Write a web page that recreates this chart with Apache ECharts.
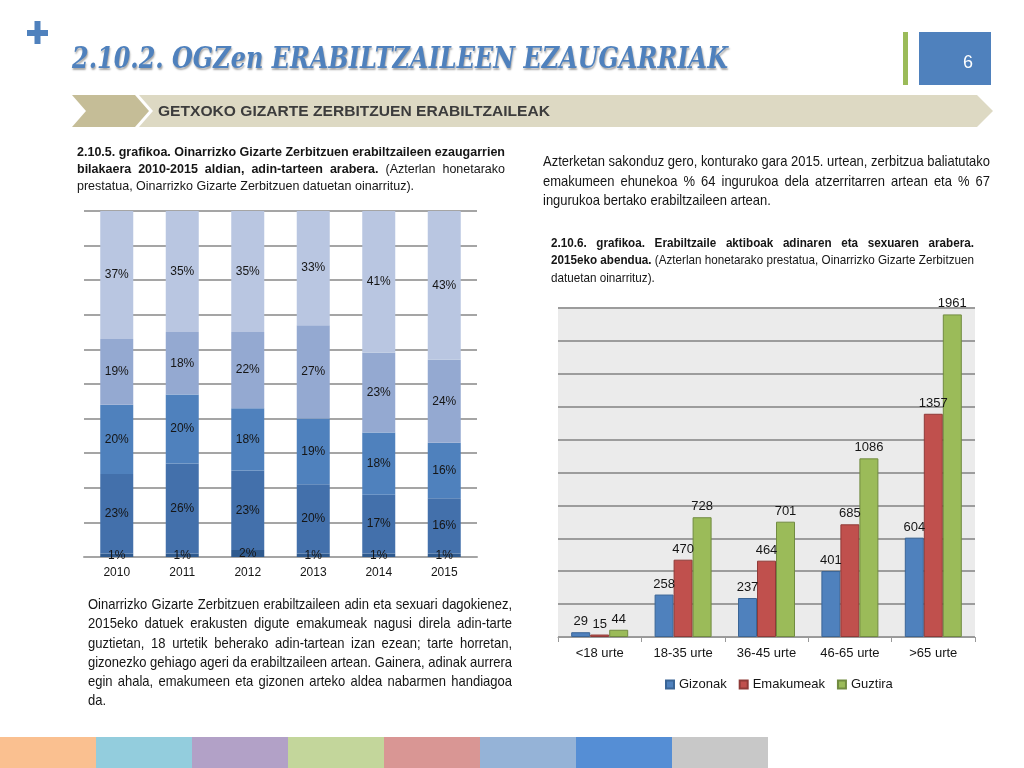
<!DOCTYPE html>
<html><head><meta charset="utf-8">
<script src="https://cdn.jsdelivr.net/npm/echarts@6/dist/echarts.min.js"></script>
<style>
html,body{margin:0;padding:0;background:#fff;}
#wrap{position:relative;width:1024px;height:768px;overflow:hidden;}
#chart{position:absolute;left:0;top:0;width:1024px;height:768px;}
.ln{position:absolute;white-space:nowrap;color:#151515;font-family:"Liberation Sans Narrow","Arial Narrow","Liberation Sans",Arial,sans-serif;transform-origin:0 50%;}
.just{text-align:justify;text-align-last:justify;}
</style></head>
<body><div id="wrap"><div id="chart"></div><div id="texts"></div></div>
<script>
// ---- Data: left chart (100% stacked, by year) ----
const years = ['2010','2011','2012','2013','2014','2015'];
const ageGroups = ['<18 urte','18-35 urte','36-45 urte','46-65 urte','>65 urte'];
const shareUnder18 = [1,1,2,1,1,1];
const share18to35 = [23,26,23,20,17,16];
const share36to45 = [20,20,18,19,18,16];
const share46to65 = [19,18,22,27,23,24];
const shareOver65 = [37,35,35,33,41,43];
const leftTicks = {min:0, max:100, interval:10};

// ---- Data: right chart (2015, by age & sex) ----
const sexSeries = ['Gizonak','Emakumeak','Guztira'];
const gizonak = [29,258,237,401,604];
const emakumeak = [15,470,464,685,1357];
const guztira = [44,728,701,1086,1961];
const rightTicks = {min:0, max:2000, interval:200};

// ---- Slide texts ----
const titleText = '2.10.2. OGZen ERABILTZAILEEN EZAUGARRIAK';
const bannerText = 'GETXOKO GIZARTE ZERBITZUEN ERABILTZAILEAK';
const pageNumber = '6';
const leftCaption = [
  '<b>2.10.5. grafikoa. Oinarrizko Gizarte Zerbitzuen erabiltzaileen ezaugarrien</b>',
  '<b>bilakaera 2010-2015 aldian, adin-tarteen arabera.</b> (Azterlan honetarako',
  'prestatua, Oinarrizko Gizarte Zerbitzuen datuetan oinarrituz).'
];
const rightPara = [
  'Azterketan sakonduz gero, konturako gara 2015. urtean, zerbitzua baliatutako',
  'emakumeen ehunekoa % 64 ingurukoa dela atzerritarren artean eta % 67',
  'ingurukoa bertako erabiltzaileen artean.'
];
const rightCaption = [
  '<b>2.10.6. grafikoa. Erabiltzaile aktiboak adinaren eta sexuaren arabera.</b>',
  '<b>2015eko abendua.</b> (Azterlan honetarako prestatua, Oinarrizko Gizarte Zerbitzuen',
  'datuetan oinarrituz).'
];
const bottomPara = [
  'Oinarrizko Gizarte Zerbitzuen erabiltzaileen adin eta sexuari dagokienez,',
  '2015eko datuek erakusten digute emakumeak nagusi direla adin-tarte',
  'guztietan, 18 urtetik beherako adin-tartean izan ezean; tarte horretan,',
  'gizonezko gehiago ageri da erabiltzaileen artean. Gainera, adinak aurrera',
  'egin ahala, emakumeen eta gizonen arteko aldea nabarmen handiagoa',
  'da.'
];
const stripColors = ['#fac090','#93cddd','#b2a1c7','#c3d69b','#d99694','#95b3d7','#558ed5','#c8c8c8'];

// ---- HTML text placement ----
const texts = document.getElementById('texts');
function makeLine(html, x, y, size, lh, extra){
  const d = document.createElement('div');
  d.className = 'ln';
  d.style.left = x+'px';
  d.style.top = (y - lh/2)+'px';
  d.style.height = lh+'px';
  d.style.lineHeight = lh+'px';
  d.style.fontSize = size+'px';
  if (extra) Object.assign(d.style, extra);
  d.innerHTML = html;
  texts.appendChild(d);
  return d;
}
function fitLine(html, x, y, w, size, lh, extra){
  const d = makeLine(html, x, y, size, lh, extra);
  const nat = d.getBoundingClientRect().width;
  d.style.transform = 'scaleX(' + (w/nat) + ')';
}
function block(lines, x, y0, w, size, lh, step){
  const divs = lines.map((t,i)=>makeLine(t, x, y0 + i*step, size, lh));
  let s = 1;
  divs.forEach(d=>{ const nat = d.getBoundingClientRect().width; s = Math.min(s, w/nat); });
  divs.forEach((d,i)=>{
    if (s < 1) d.style.transform = 'scaleX(' + s + ')';
    if (i < divs.length-1) { d.style.width = (w/s)+'px'; d.classList.add('just'); }
  });
}
fitLine(titleText, 72, 58, 656, 29, 40,
  {fontFamily:'"DejaVu Serif","Liberation Serif",serif', fontWeight:'bold', fontStyle:'italic',
   color:'#4f81bd', textShadow:'1px 2px 2px rgba(0,0,0,0.35)'});
fitLine(bannerText, 158, 111, 392, 14, 20,
  {fontFamily:'"Liberation Sans",Arial,sans-serif', fontWeight:'bold', color:'#3c3c3c'});
block(leftCaption, 77, 151, 428, 13, 17, 17);
block(rightPara, 543, 161, 447, 14.5, 20, 19.6);
block(rightCaption, 551, 242, 423, 13, 17, 17.6);
block(bottomPara, 88, 605, 424, 14.5, 19.5, 19.2);

// ---- ECharts ----
const chart = echarts.init(document.getElementById('chart'), null, {renderer:'canvas'});
const leftColors = ['#2f5a8e','#4370ab','#4f81bd','#94a9d1','#b9c6e1'];
const leftData = [shareUnder18, share18to35, share36to45, share46to65, shareOver65];
const rightColors = ['#4f81bd','#c0504d','#9bbb59'];
const rightBorders = ['#3a6596','#8f3a37','#718b40'];
const rightData = [gizonak, emakumeak, guztira];

const graphic = [
  {type:'rect', shape:{x:27,y:30,width:21,height:6}, style:{fill:'#4f81bd'}},
  {type:'rect', shape:{x:34.5,y:21,width:6,height:23}, style:{fill:'#4f81bd'}},
  {type:'rect', shape:{x:903,y:32,width:5,height:53}, style:{fill:'#9bbb59'}},
  {type:'rect', shape:{x:919,y:32,width:72,height:53}, style:{fill:'#4f81bd'}},
  {type:'text', x:968, y:63, style:{text:pageNumber, fill:'#fff', font:'18px "Liberation Sans", Arial', textAlign:'center', textVerticalAlign:'middle'}},
  {type:'polygon', shape:{points:[[72,95],[135,95],[149,111],[135,127],[72,127],[86,111]]}, style:{fill:'#c5bd97'}},
  {type:'polygon', shape:{points:[[139,95],[977,95],[993,111],[977,127],[139,127],[153,111]]}, style:{fill:'#ddd9c3'}}
];
stripColors.forEach((c,i)=>graphic.push({type:'rect', shape:{x:i*96,y:737,width:96,height:31}, style:{fill:c}}));

const series = [];
leftData.forEach((d,i)=>series.push({
  name: ageGroups[i], type:'bar', stack:'share', xAxisIndex:0, yAxisIndex:0,
  data: d, barWidth:33,
  itemStyle:{color:leftColors[i]},
  label:{show:true, position:'inside', formatter:'{c}%', color:'#151515', fontSize:12, fontFamily:'Liberation Sans'}
}));
rightData.forEach((d,i)=>series.push({
  name: sexSeries[i], type:'bar', xAxisIndex:1, yAxisIndex:1,
  data: d, barWidth:19, barGap:'0%',
  itemStyle:{color:rightColors[i], borderColor:rightBorders[i], borderWidth:1},
  label:{show:true, position:'top', distance:4, color:'#151515', fontSize:13, fontFamily:'Liberation Sans'}
}));

chart.setOption({
  animation:false,
  backgroundColor:'#fff',
  textStyle:{fontFamily:'Liberation Sans'},
  graphic: graphic,
  grid:[
    {left:84, top:211, width:393, height:346},
    {left:558, top:308, width:417, height:329, show:true, backgroundColor:'#ebebeb', borderWidth:0}
  ],
  legend:{
    data: sexSeries, left:660, top:673, icon:'rect', itemWidth:8, itemHeight:8, itemGap:12,
    textStyle:{fontSize:13, color:'#151515', fontFamily:'Liberation Sans'}
  },
  xAxis:[
    {type:'category', gridIndex:0, data:years,
     axisLine:{lineStyle:{color:'#a5a5a5', width:2}}, axisTick:{show:false},
     axisLabel:{color:'#151515', fontSize:12, margin:10}},
    {type:'category', gridIndex:1, data:ageGroups,
     axisLine:{lineStyle:{color:'#999', width:1}}, axisTick:{show:true, length:5, lineStyle:{color:'#999'}},
     axisLabel:{color:'#151515', fontSize:13, margin:10}}
  ],
  yAxis:[
    {type:'value', gridIndex:0, min:leftTicks.min, max:leftTicks.max, interval:leftTicks.interval,
     axisLabel:{show:false}, axisLine:{show:false}, axisTick:{show:false},
     splitLine:{lineStyle:{color:'#a5a5a5', width:2}}},
    {type:'value', gridIndex:1, min:rightTicks.min, max:rightTicks.max, interval:rightTicks.interval,
     axisLabel:{show:false}, axisLine:{show:false}, axisTick:{show:false},
     splitLine:{lineStyle:{color:'#9c9c9c', width:2}}}
  ],
  series: series
});
</script>
</body></html>
